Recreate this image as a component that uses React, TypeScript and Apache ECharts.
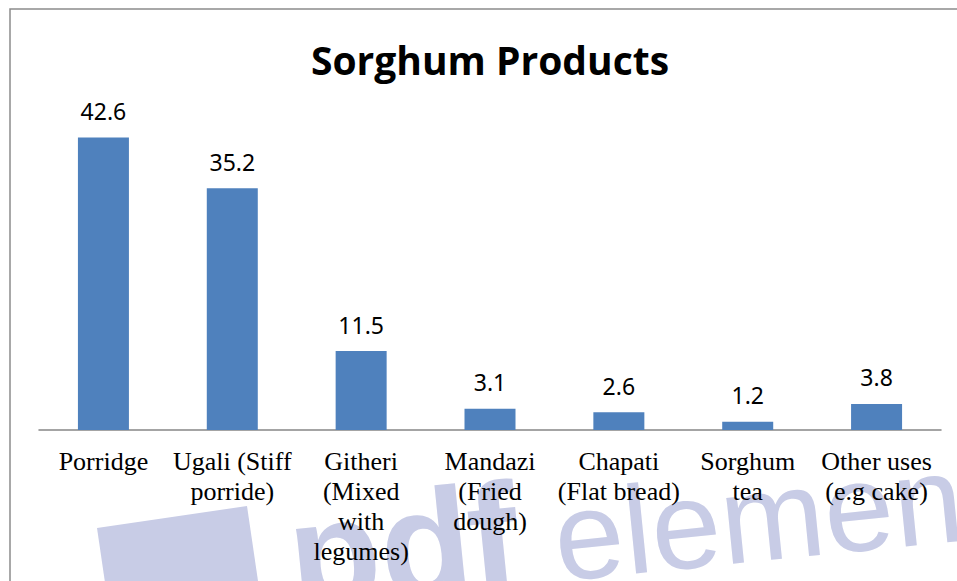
import React, { useEffect, useRef } from "react";
import * as echarts from "echarts";

const titleText = "Sorghum Products";
const categories = [
  "Porridge",
  "Ugali (Stiff\nporride)",
  "Githeri\n(Mixed\nwith\nlegumes)",
  "Mandazi\n(Fried\ndough)",
  "Chapati\n(Flat bread)",
  "Sorghum\ntea",
  "Other uses\n(e.g cake)",
];
const values = [42.6, 35.2, 11.5, 3.1, 2.6, 1.2, 3.8];
const watermarkBold = "pd";
const watermarkF = "f";
const watermarkLight = "element";

export default function App() {
  const ref = useRef<HTMLDivElement>(null);
  useEffect(() => {
    if (!ref.current) return;
    const chart = echarts.init(ref.current, null, { renderer: "svg" });
    const wm = "#c8cce6";
    chart.setOption({
      animation: false,
      backgroundColor: "#ffffff",
      title: {
        text: titleText,
        left: 485,
        textAlign: "center",
        top: 35,
        textStyle: {
          fontFamily: "Open Sans",
          fontWeight: "bold",
          fontSize: 39,
          color: "#000000",
        },
      },
      grid: { left: 39, right: 16, top: 121, bottom: 151, containLabel: false },
      xAxis: {
        type: "category",
        data: categories,
        axisTick: { show: false },
        axisLine: { lineStyle: { color: "#868686", width: 1.5 } },
        axisLabel: {
          interval: 0,
          margin: 16,
          fontFamily: "Liberation Serif",
          fontSize: 26,
          lineHeight: 30,
          color: "#000000",
        },
      },
      yAxis: {
        type: "value",
        min: 0,
        max: 45,
        show: false,
        splitLine: { show: false },
      },
      graphic: [
        {
          type: "rect",
          z: -30,
          shape: { x: 10, y: 9, width: 1000, height: 700 },
          style: { fill: "none", stroke: "#8c8c8c", lineWidth: 1.5 },
        },
        {
          type: "polygon",
          z: -20,
          shape: {
            points: [
              [97, 528],
              [247, 506],
              [269, 656],
              [119, 678],
            ],
          },
          style: { fill: wm },
        },
        {
          type: "group",
          x: 560,
          y: 576,
          rotation: 0.1,
          z: -20,
          children: [
            {
              type: "text",
              z: -20,
              x: -268,
              y: 29,
              style: {
                text: watermarkBold,
                fill: wm,
                font: "bold 150px 'Liberation Sans'",
                textVerticalAlign: "bottom",
              },
            },
            {
              type: "text",
              z: -20,
              x: -88,
              y: 29,
              style: {
                text: watermarkF,
                fill: wm,
                font: "bold 150px 'Liberation Sans'",
                textVerticalAlign: "bottom",
              },
            },
            {
              type: "text",
              z: -20,
              x: -2,
              y: 24,
              style: {
                text: watermarkLight,
                fill: wm,
                font: "125px 'Liberation Sans'",
                textVerticalAlign: "bottom",
              },
            },
          ],
        },
      ],
      series: [
        {
          type: "bar",
          data: values,
          barWidth: 51,
          itemStyle: { color: "#4f81bd" },
          label: {
            show: true,
            position: "top",
            distance: 15,
            fontFamily: "Noto Sans",
            fontSize: 23,
            color: "#000000",
          },
        },
      ],
    });
    return () => chart.dispose();
  }, []);
  return (
    <div
      ref={ref}
      style={{ position: "absolute", left: 0, top: 0, width: 957, height: 581 }}
    />
  );
}
